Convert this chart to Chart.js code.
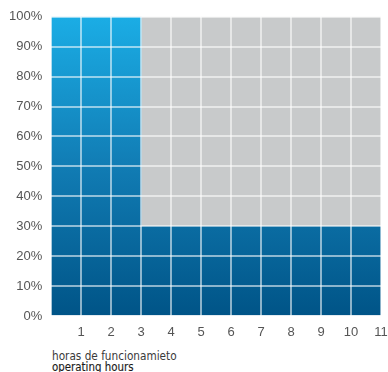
<!DOCTYPE html>
<html>
<head>
<meta charset="utf-8">
<script src="https://cdn.jsdelivr.net/npm/chart.js@4"></script>
<style>
  html, body { margin: 0; padding: 0; background: #fff; }
  #wrap { position: relative; width: 388px; height: 372px; }
  #box { position: absolute; left: 0; top: 0; width: 388px; height: 342px; }
  .titulo { position: absolute; left: 52px; font-family: 'DejaVu Sans Condensed', 'DejaVu Sans', sans-serif; color: #3a3a3a; font-size: 11.7px; line-height: 12px; }
</style>
</head>
<body>
<div id="wrap">
  <div id="box"><canvas id="grafico"></canvas></div>
  <div class="titulo" style="top:350px;">horas de funcionamieto</div>
  <div class="titulo" style="top:361px; font-size:11.4px; color:#1a1a1a; -webkit-text-stroke:0.12px #1a1a1a;">operating hours</div>
</div>
<script>
// horas (células de 0-1, 1-2, ... 10-11)
const horas = [1, 2, 3, 4, 5, 6, 7, 8, 9, 10, 11];
const carga = [100, 100, 100, 30, 30, 30, 30, 30, 30, 30, 30];
const resto = [0, 0, 0, 70, 70, 70, 70, 70, 70, 70, 70];
const ticksY = [0, 10, 20, 30, 40, 50, 60, 70, 80, 90, 100];

function gradiente(ctx) {
  const area = ctx.chart.chartArea;
  if (!area) return '#0a6aa0';
  const g = ctx.chart.ctx.createLinearGradient(0, area.bottom, 0, area.top);
  g.addColorStop(0, '#005487');
  g.addColorStop(0.5, '#117cb4');
  g.addColorStop(1, '#1badE5');
  return g;
}

const ctx = document.getElementById('grafico').getContext('2d');
new Chart(ctx, {
  type: 'bar',
  data: {
    datasets: [
      {
        data: horas.map((h, i) => ({ x: h - 0.5, y: carga[i] })),
        backgroundColor: gradiente,
        borderWidth: 0
      },
      {
        data: horas.map((h, i) => ({ x: h - 0.5, y: resto[i] })),
        backgroundColor: '#c8cacb',
        borderWidth: 0
      }
    ]
  },
  options: {
    responsive: true,
    maintainAspectRatio: false,
    animation: false,
    barPercentage: 1,
    categoryPercentage: 1,
    layout: { padding: { top: 10, right: 0 } },
    plugins: { legend: { display: false }, tooltip: { enabled: false } },
    scales: {
      x: {
        type: 'linear',
        stacked: true,
        offset: false,
        min: 0,
        max: 11,
        border: { display: false },
        grid: { offset: false, z: 1, color: 'rgba(255,255,255,0.55)', lineWidth: 2, drawTicks: false },
        afterFit: s => { s.height = 26; s.paddingRight = 7; },
        ticks: {
          stepSize: 1,
          padding: 9,
          maxRotation: 0,
          color: '#555',
          font: { size: 13 },
          callback: v => (v === 0 ? '' : String(v))
        }
      },
      y: {
        stacked: true,
        min: 0,
        max: 100,
        border: { display: false },
        grid: { z: 1, color: 'rgba(255,255,255,0.55)', lineWidth: 2, drawTicks: false },
        afterBuildTicks: s => { s.ticks = ticksY.map(v => ({ value: v })); },
        ticks: {
          padding: 9,
          color: '#555',
          font: { size: 13 },
          callback: v => v + '%'
        }
      }
    }
  }
});
</script>
</body>
</html>
